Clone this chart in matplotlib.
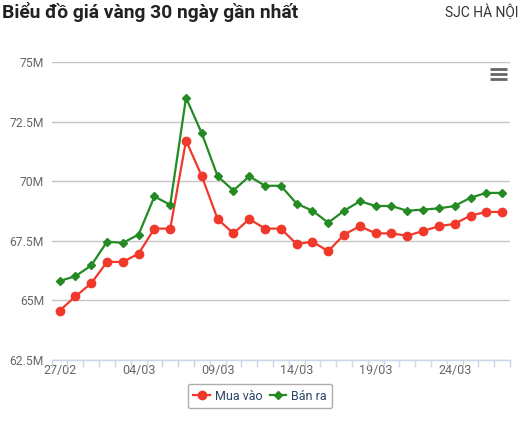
import numpy as np
import matplotlib
matplotlib.use("Agg")
import matplotlib.pyplot as plt
from matplotlib.lines import Line2D
from matplotlib.ticker import FuncFormatter, FixedLocator

plt.rcParams['font.family'] = ['Roboto', 'DejaVu Sans']

# ngay 27/02 -> 27/03
dates = ['27/02', '28/02'] + ['%02d/03' % d for d in range(1, 28)]

# gia (trieu dong / luong)
mua_vao = [64.55, 65.15, 65.70, 66.60, 66.60, 66.95, 68.00, 68.00, 71.70, 70.20,
           68.40, 67.80, 68.40, 68.00, 68.00, 67.35, 67.45, 67.05, 67.75, 68.10,
           67.80, 67.80, 67.70, 67.90, 68.10, 68.20, 68.55, 68.70, 68.70]
ban_ra = [65.80, 66.00, 66.45, 67.45, 67.40, 67.75, 69.35, 69.00, 73.50, 72.00,
          70.20, 69.60, 70.20, 69.80, 69.80, 69.05, 68.75, 68.25, 68.75, 69.15,
          68.95, 68.95, 68.75, 68.80, 68.85, 68.95, 69.30, 69.50, 69.50]
y_ticks = [62.5, 65, 67.5, 70, 72.5, 75]

red = '#f0392b'
green = '#248a24'

fig = plt.figure(figsize=(5.2, 4.23), dpi=100)
ax = fig.add_axes([0.0994, 0.1501, 0.8814, 0.7033])

x = np.arange(len(dates))
ax.plot(x, mua_vao, color=red, lw=1.6, marker='o', ms=6, label='Mua vào', zorder=3)
ax.plot(x, ban_ra, color=green, lw=1.6, marker='D', ms=4, label='Bán ra', zorder=3)

ax.set_xlim(-0.5, len(dates) - 0.5)
ax.set_ylim(62.5, 75)
ax.set_yticks(y_ticks)
ax.yaxis.set_major_formatter(FuncFormatter(lambda v, p: '%gM' % v))
ax.grid(axis='y', color='#c6c6c6', lw=1)
ax.set_axisbelow(True)

ax.set_xticks(x[::5])
ax.set_xticklabels(dates[::5])
ax.xaxis.set_minor_locator(FixedLocator(np.arange(-0.5, len(dates), 1)))
ax.tick_params(axis='x', which='major', length=0, pad=3, labelsize=9, labelcolor='#666666')
ax.tick_params(axis='x', which='minor', length=5, width=1, color='#ccd6eb')
ax.tick_params(axis='y', length=0, pad=5.5, labelsize=8.7, labelcolor='#666666')

for s in ['top', 'right', 'left']:
    ax.spines[s].set_visible(False)
ax.spines['bottom'].set_color('#ccd6eb')
ax.spines['bottom'].set_linewidth(1)

fig.text(0.004, 0.972, 'Biểu đồ giá vàng 30 ngày gần nhất', fontsize=13.85,
         fontweight='bold', color='#222222', va='center', ha='left')
fig.text(0.998, 0.972, 'SJC HÀ NỘI', fontsize=10, color='#333333', va='center', ha='right')

# menu icon
for yy in [69.3, 74.3, 79.3]:
    fig.add_artist(Line2D([490 / 520, 507 / 520], [1 - yy / 423, 1 - yy / 423],
                          color='#666666', lw=2, solid_capstyle='butt'))

leg = fig.legend(loc='center', bbox_to_anchor=(0.5, 1 - 396 / 423), ncol=2,
                 frameon=True, fancybox=True, edgecolor='#999999', fontsize=9,
                 handlelength=1.3, handletextpad=0.4, columnspacing=0.6,
                 borderpad=0.45, borderaxespad=0, labelcolor='#2b4765')
leg.get_frame().set_linewidth(1)

fig.savefig('out.png', dpi=100)
